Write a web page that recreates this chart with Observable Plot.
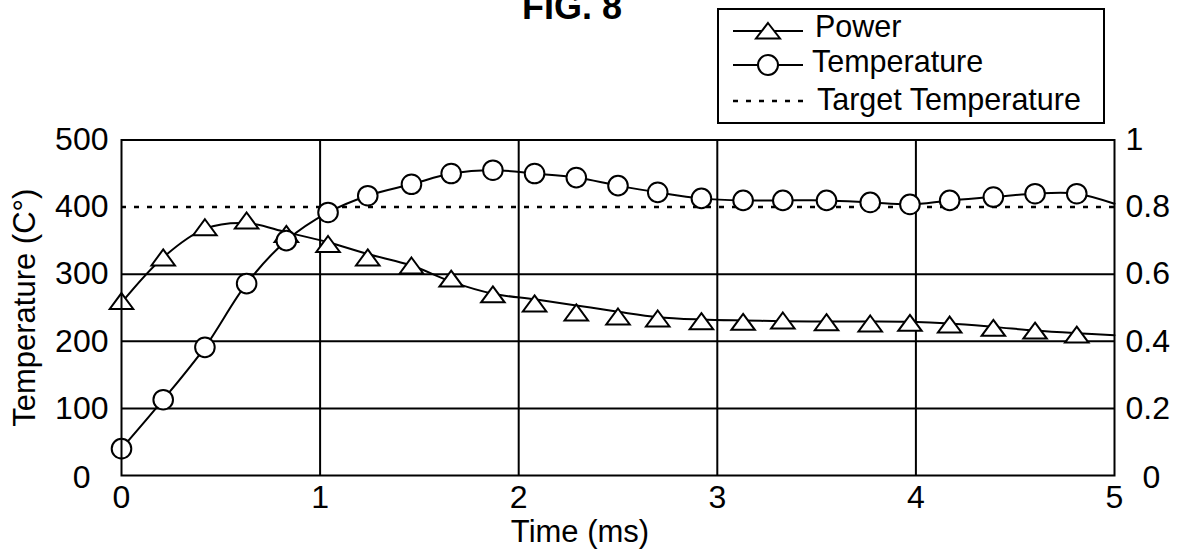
<!DOCTYPE html>
<html>
<head>
<meta charset="utf-8">
<script src="https://cdn.jsdelivr.net/npm/d3@7"></script>
<script src="https://cdn.jsdelivr.net/npm/@observablehq/plot@0.6"></script>
<style>
  body { margin: 0; background: #fff; }
  #wrap { position: relative; width: 1177px; height: 552px; overflow: hidden; background: #fff; }
  #overlay { position: absolute; left: 0; top: 0; pointer-events: none; }
  #chart svg { display: block; }
</style>
</head>
<body>
<div id="wrap">
  <div id="chart"></div>
  <svg id="overlay" width="1177" height="552"></svg>
</div>
<script>
// ---- data ----
const time = [0, 0.21, 0.42, 0.63, 0.83, 1.04, 1.24, 1.46, 1.66, 1.87, 2.08, 2.29,
              2.50, 2.70, 2.92, 3.13, 3.33, 3.55, 3.77, 3.97, 4.17, 4.39, 4.60, 4.81];
const temperature = [40, 113, 191, 286, 350, 392, 417, 434, 450, 455, 450, 444,
                     432, 422, 413, 410, 410, 410, 407, 404, 410, 415, 420, 420];
const temperatureEnd = 405;           // curve value at t = 5
const power = [0.52, 0.65, 0.74, 0.76, 0.72, 0.69, 0.65, 0.626, 0.587, 0.54, 0.513, 0.486,
               0.474, 0.468, 0.46, 0.458, 0.462, 0.457, 0.453, 0.455, 0.45, 0.44, 0.432, 0.42];
const powerCurve = [0.515, 0.65, 0.735, 0.752, 0.725, 0.695, 0.66, 0.626, 0.578, 0.542, 0.525, 0.507,
                    0.488, 0.472, 0.465, 0.462, 0.46, 0.459, 0.459, 0.458, 0.453, 0.443, 0.432, 0.424];
const powerEnd = 0.418;               // curve value at t = 5
const endTime = 5;
const targetTemperature = 400;

const xTicks = [0, 1, 2, 3, 4, 5];
const leftTicks = [100, 200, 300, 400, 500];
const rightTicks = [100, 200, 300, 400, 500];  // on the temperature scale: power = T / 500
const powerFull = 500;                 // temperature units equal to power 1
const gridX = [1, 2, 3, 4];
const gridY = [100, 200, 300];

// ---- tables built from the arrays ----
const tempPts = time.map((t, i) => ({t, v: temperature[i]}));
const tempLine = [...tempPts, {t: endTime, v: temperatureEnd}];
const powPts = time.map((t, i) => ({t, v: power[i] * powerFull}));
const powLine = [...time.map((t, i) => ({t, v: powerCurve[i] * powerFull})), {t: endTime, v: powerEnd * powerFull}];

// flattened triangle marker (bbox-centred)
const triangle = {
  draw(ctx, size) {
    const r = Math.sqrt(size / Math.PI);
    const w = r * 1.25, h = r * 0.85;
    ctx.moveTo(0, -h);
    ctx.lineTo(w, h);
    ctx.lineTo(-w, h);
    ctx.closePath();
  }
};

const FONT = "Liberation Sans, Arial, Helvetica, sans-serif";

const chart = Plot.plot({
  width: 1177,
  height: 552,
  marginLeft: 121,
  marginRight: 63,
  marginTop: 139.5,
  marginBottom: 77,
  x: {domain: [0, 5]},
  y: {domain: [0, 500]},
  style: {fontFamily: FONT, fontSize: "32px", color: "black", background: "white", overflow: "visible"},
  marks: [
    Plot.ruleY(gridY, {stroke: "black", strokeWidth: 2}),
    Plot.ruleX(gridX, {stroke: "black", strokeWidth: 2}),
    Plot.ruleY([targetTemperature], {stroke: "black", strokeWidth: 2.5, strokeDasharray: "5,8"}),
    Plot.line(powLine, {x: "t", y: "v", curve: "catmull-rom", stroke: "black", strokeWidth: 2}),
    Plot.line(tempLine, {x: "t", y: "v", curve: "catmull-rom", stroke: "black", strokeWidth: 2}),
    Plot.dot(powPts, {x: "t", y: "v", symbol: triangle, r: 9.4, fill: "white", stroke: "black", strokeWidth: 2}),
    Plot.dot(tempPts, {x: "t", y: "v", r: 9.8, fill: "white", stroke: "black", strokeWidth: 2}),
    Plot.frame({stroke: "black", strokeWidth: 2}),
    Plot.axisX({ticks: xTicks, tickSize: 0, tickPadding: 10, label: null, fontSize: 32, tickFormat: d => String(d)}),
    Plot.axisY({anchor: "left", ticks: leftTicks, tickSize: 0, tickPadding: 13, label: null, fontSize: 32, tickFormat: d => String(d)}),
    Plot.axisY({anchor: "left", ticks: [0], tickSize: 0, tickPadding: 31, dy: 2, label: null, fontSize: 32, tickFormat: d => String(d)}),
    Plot.axisY({anchor: "right", ticks: rightTicks, tickSize: 0, tickPadding: 11, label: null, fontSize: 32, tickFormat: d => String(d / powerFull)}),
    Plot.axisY({anchor: "right", ticks: [0], tickSize: 0, tickPadding: 28, dy: 2, label: null, fontSize: 32, tickFormat: d => String(d / powerFull)}),
    Plot.text(["Temperature (C°)"], {frameAnchor: "left", dx: -87, rotate: -90, textAnchor: "middle", lineAnchor: "bottom", fontSize: 31, fill: "black"}),
    Plot.text(["Time (ms)"], {frameAnchor: "bottom", dx: -38, dy: 66, textAnchor: "middle", lineAnchor: "bottom", fontSize: 31, fill: "black"})
  ]
});
document.getElementById("chart").appendChild(chart);

// ---- title and legend overlay ----
const ov = d3.select("#overlay").style("font-family", FONT);
ov.append("text").attr("x", 572).attr("y", 19).attr("text-anchor", "middle")
  .attr("font-size", 36).attr("font-weight", "bold").text("FIG. 8");

const lg = ov.append("g");
lg.append("rect").attr("x", 718).attr("y", 9).attr("width", 386).attr("height", 114)
  .attr("fill", "white").attr("stroke", "black").attr("stroke-width", 2);
const legendItems = [
  {label: "Power", y: 31, base: 37, tx: 815, kind: "tri"},
  {label: "Temperature", y: 65, base: 72, tx: 812, kind: "circ"},
  {label: "Target Temperature", y: 101, base: 110, tx: 817, kind: "dot"}
];
legendItems.forEach(it => {
  if (it.kind === "dot") {
    lg.append("line").attr("x1", 733).attr("x2", 803).attr("y1", it.y).attr("y2", it.y)
      .attr("stroke", "black").attr("stroke-width", 2.5).attr("stroke-dasharray", "5,8");
  } else {
    lg.append("line").attr("x1", 733).attr("x2", 803).attr("y1", it.y).attr("y2", it.y)
      .attr("stroke", "black").attr("stroke-width", 2);
  }
  if (it.kind === "tri") {
    lg.append("path").attr("d", `M768,${it.y - 8}L780,${it.y + 7.5}L756,${it.y + 7.5}Z`)
      .attr("fill", "white").attr("stroke", "black").attr("stroke-width", 2);
  }
  if (it.kind === "circ") {
    lg.append("circle").attr("cx", 768).attr("cy", it.y).attr("r", 10)
      .attr("fill", "white").attr("stroke", "black").attr("stroke-width", 2);
  }
  lg.append("text").attr("x", it.tx).attr("y", it.base).attr("font-size", 30.5).text(it.label);
});
</script>
</body>
</html>
